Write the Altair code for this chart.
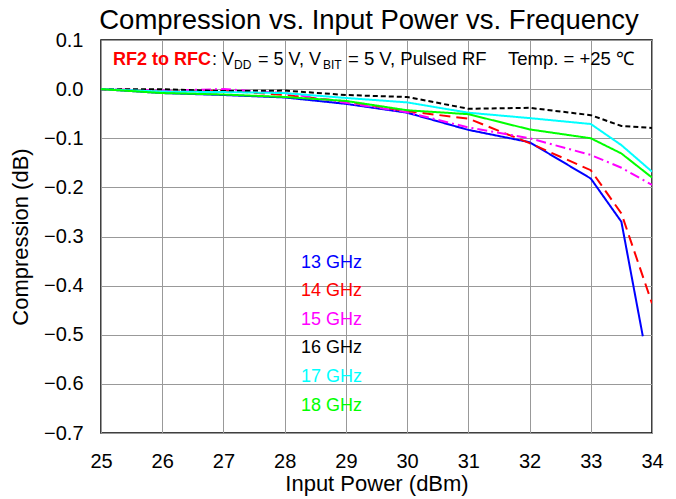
import altair as alt
import pandas as pd

# ---- data ----
freqs = ["13 GHz", "14 GHz", "15 GHz", "16 GHz", "17 GHz", "18 GHz"]
colors = ["#0000FF", "#FF0000", "#FF00FF", "#000000", "#00FFFF", "#00FF00"]
dashes = [[1, 0], [11, 6], [10, 4, 2, 4], [5, 3], [1, 0], [1, 0]]

power = [25, 26, 27, 28, 29, 30, 31, 32, 33, 33.5, 34]
power_13 = [25, 26, 27, 28, 29, 30, 31, 32, 33, 33.5, 33.85]

comp_13 = [0.0, -0.008, -0.012, -0.017, -0.030, -0.048, -0.083, -0.108, -0.182, -0.270, -0.503]
comp_14 = [0.0, -0.005, -0.003, -0.012, -0.025, -0.045, -0.060, -0.110, -0.165, -0.253, -0.436]
comp_15 = [0.0, -0.003, 0.000, -0.008, -0.028, -0.047, -0.078, -0.100, -0.134, -0.160, -0.195]
comp_16 = [0.0, 0.000, -0.004, -0.003, -0.012, -0.016, -0.040, -0.038, -0.053, -0.075, -0.079]
comp_17 = [0.0, -0.005, -0.006, -0.008, -0.018, -0.027, -0.048, -0.059, -0.071, -0.114, -0.168]
comp_18 = [0.0, -0.008, -0.011, -0.016, -0.024, -0.043, -0.051, -0.082, -0.100, -0.131, -0.180]

x_ticks = [25, 26, 27, 28, 29, 30, 31, 32, 33, 34]
y_ticks = [0.1, 0.0, -0.1, -0.2, -0.3, -0.4, -0.5, -0.6, -0.7]

series = [comp_13, comp_14, comp_15, comp_16, comp_17, comp_18]
xs = [power_13, power, power, power, power, power]

rows = []
for f, xv, yv in zip(freqs, xs, series):
    for i, (a, b) in enumerate(zip(xv, yv)):
        rows.append({"freq": f, "power": a, "comp": b, "order": i})
df = pd.DataFrame(rows)

FONT = "Liberation Sans"
PL, PT = 101, 40  # plot origin on the page (for annotation placement)

x_enc = alt.X("power:Q", scale=alt.Scale(domain=[25, 34], nice=False, zero=False),
              axis=alt.Axis(values=x_ticks, title="Input Power (dBm)", format="d"))
y_enc = alt.Y("comp:Q", scale=alt.Scale(domain=[-0.7, 0.1], nice=False, zero=False),
              axis=alt.Axis(values=y_ticks, title="Compression (dB)", format=".1f"))

lines = alt.Chart(df).mark_line(strokeWidth=2, clip=True).encode(
    x=x_enc,
    y=y_enc,
    color=alt.Color("freq:N", scale=alt.Scale(domain=freqs, range=colors), legend=None),
    strokeDash=alt.StrokeDash("freq:N", scale=alt.Scale(domain=freqs, range=dashes), legend=None),
    order="order:Q",
    detail="freq:N",
)

layers = [lines]


def txt(s, x, y, size=18, color="black", weight="normal", align="left", baseline="alphabetic"):
    return alt.Chart(pd.DataFrame({"t": [s]})).mark_text(
        align=align, baseline=baseline, fontSize=size, font=FONT, color=color, fontWeight=weight
    ).encode(x=alt.value(x - PL), y=alt.value(y - PT), text="t:N")


# chart title
layers.append(txt("Compression vs. Input Power vs. Frequency", 369, 29, size=27.5, align="center"))

# legend-like labels
for i, (f, c) in enumerate(zip(freqs, colors)):
    layers.append(txt(f, 301, 267.5 + i * 28.6, size=18, color=c))

# header annotation with subscripts
base_y = 65
sub_y = base_y + 3.5
layers += [
    txt("RF2 to RFC", 113, base_y, size=18, color="#FF0000", weight="bold"),
    txt(": V", 212, base_y),
    txt("DD", 234, sub_y, size=12),
    txt("= 5 V, V", 258, base_y),
    txt("BIT", 323, sub_y, size=12),
    txt("= 5 V, Pulsed RF", 348, base_y, size=18.5),
    txt("Temp. = +25 \u2103", 508, base_y, size=18.5),
]

chart = alt.layer(*layers).properties(
    width=551,
    height=393,
    autosize=alt.AutoSizeParams(type="none"),
    padding={"left": 93, "top": 32, "right": 16, "bottom": 70},
).configure_view(
    stroke="black", strokeWidth=1.5
).configure_axis(
    grid=True, gridColor="#999999", gridWidth=1,
    domain=False, ticks=False, labelFlush=False,
    labelFont=FONT, labelFontSize=20, labelColor="black",
    titleFont=FONT, titleFontSize=22, titleColor="black", titleFontWeight="normal",
).configure_axisX(
    labelPadding=18, titlePadding=2
).configure_axisY(
    labelPadding=18, titlePadding=11
)

chart.save("out.html", embed_options={"renderer": "svg", "actions": False})
